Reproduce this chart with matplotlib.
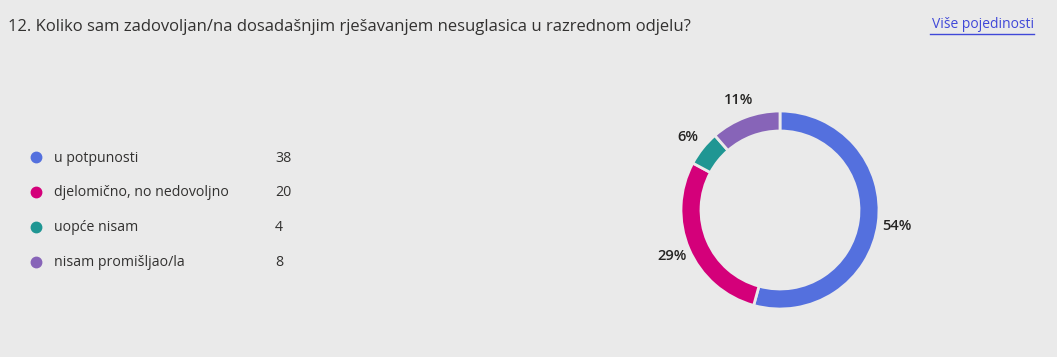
import matplotlib.pyplot as plt

plt.rcParams['font.family'] = ['Open Sans', 'DejaVu Sans']

categories = ["u potpunosti", "djelomično, no nedovoljno", "uopće nisam", "nisam promišljao/la"]
counts = [38, 20, 4, 8]
colors = ["#5470DE", "#D4007A", "#1F9693", "#8764B8"]
title = "12. Koliko sam zadovoljan/na dosadašnjim rješavanjem nesuglasica u razrednom odjelu?"
link = "Više pojedinosti"

bg = "#EAEAEA"
W, H = 1057, 357
fig = plt.figure(figsize=(W / 100, H / 100), dpi=100, facecolor=bg)

# title and link
fig.text(8 / W, 1 - 27 / H, title, fontsize=12, color="#323130", va="center", ha="left")
fig.text(1034 / W, 1 - 25 / H, link, fontsize=10, color="#4048D8", va="center", ha="right")
fig.add_artist(plt.Line2D([930 / W, 1034 / W], [1 - 34 / H, 1 - 34 / H], color="#4048D8", lw=1))

# legend rows
for i, (cat, n, c) in enumerate(zip(categories, counts, colors)):
    y = 1 - (158 + 35 * i) / H
    fig.add_artist(plt.Line2D([36 / W], [1 - (157 + 35 * i) / H], marker="o", ms=7.5, color=c, mec=c))
    fig.text(54 / W, y, cat, fontsize=10.2, color="#323130", va="center", ha="left")
    fig.text(275 / W, y, str(n), fontsize=10.2, color="#323130", va="center", ha="left")

# donut
cx, cy, r = 780, 210, 99
half = 130
ax = fig.add_axes([(cx - half) / W, (H - cy - half) / H, 2 * half / W, 2 * half / H])
ax.set_facecolor(bg)
wedges, _, autotexts = ax.pie(
    counts, colors=colors, startangle=90, counterclock=False,
    autopct=lambda p: "{:.0f}%".format(p), pctdistance=1.19,
    wedgeprops=dict(width=20 / r, edgecolor=bg, linewidth=2),
)
for t in autotexts:
    t.set_fontsize(10.5)
    t.set_color("#252423")
    t.set_fontweight("semibold")
ax.set_xlim(-half / r, half / r)
ax.set_ylim(-half / r, half / r)
ax.set_aspect("equal")
ax.axis("off")

fig.savefig("out.png", dpi=100, facecolor=bg)
